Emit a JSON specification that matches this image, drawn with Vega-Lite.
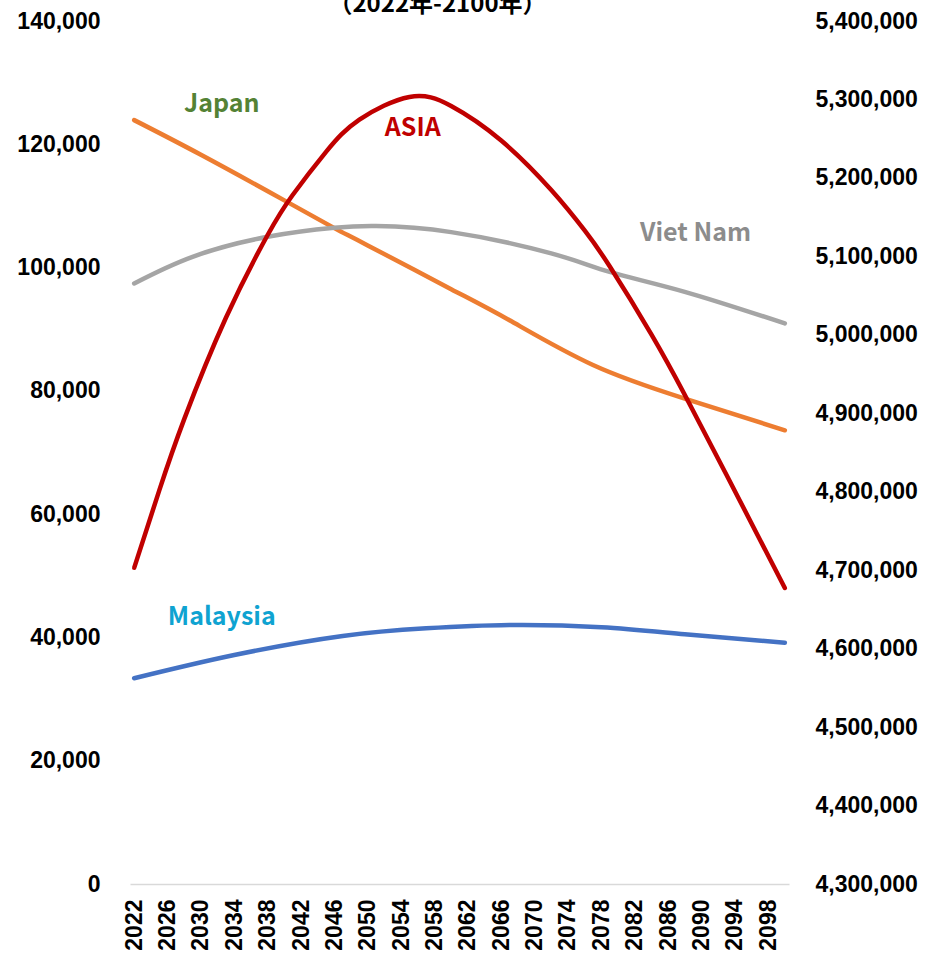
{
  "$schema": "https://vega.github.io/schema/vega-lite/v6.json",
  "width": 659,
  "height": 863,
  "autosize": {"type": "none"},
  "padding": {"left": 130, "top": 21, "right": 137, "bottom": 73},
  "background": "white",
  "title": {"text": "（2022年-2100年）", "font": "Noto Sans CJK JP", "fontSize": 24, "fontWeight": "bold", "color": "#000000", "offset": -7, "dx": -22, "anchor": "middle"},
  "config": {
    "view": {"stroke": null},
    "axis": {"labelFont": "Liberation Sans", "labelFontSize": 23, "labelFontWeight": "bold", "labelColor": "#000000", "ticks": false, "tickSize": 0, "grid": false, "title": null, "labelFlush": false, "labelOverlap": false}
  },
  "datasets": {
    "series": [
      {"year": 2022, "series": "Japan", "value": 123920},
      {"year": 2030, "series": "Japan", "value": 118300},
      {"year": 2040, "series": "Japan", "value": 110900},
      {"year": 2046, "series": "Japan", "value": 106400},
      {"year": 2050, "series": "Japan", "value": 103600},
      {"year": 2060, "series": "Japan", "value": 96500},
      {"year": 2067, "series": "Japan", "value": 91450},
      {"year": 2077, "series": "Japan", "value": 84200},
      {"year": 2088, "series": "Japan", "value": 78750},
      {"year": 2100, "series": "Japan", "value": 73600},
      {"year": 2022, "series": "Viet Nam", "value": 97430},
      {"year": 2029, "series": "Viet Nam", "value": 101750},
      {"year": 2038, "series": "Viet Nam", "value": 104990},
      {"year": 2046, "series": "Viet Nam", "value": 106450},
      {"year": 2051, "series": "Viet Nam", "value": 106730},
      {"year": 2060, "series": "Viet Nam", "value": 105750},
      {"year": 2072, "series": "Viet Nam", "value": 102300},
      {"year": 2079, "series": "Viet Nam", "value": 99300},
      {"year": 2088, "series": "Viet Nam", "value": 96070},
      {"year": 2100, "series": "Viet Nam", "value": 90940},
      {"year": 2022, "series": "Malaysia", "value": 33370},
      {"year": 2034, "series": "Malaysia", "value": 37140},
      {"year": 2047, "series": "Malaysia", "value": 40230},
      {"year": 2057, "series": "Malaysia", "value": 41470},
      {"year": 2067, "series": "Malaysia", "value": 42010},
      {"year": 2078, "series": "Malaysia", "value": 41640},
      {"year": 2088, "series": "Malaysia", "value": 40500},
      {"year": 2100, "series": "Malaysia", "value": 39140},
      {"year": 2022, "series": "ASIA", "value": 4703000},
      {"year": 2025, "series": "ASIA", "value": 4801400},
      {"year": 2028, "series": "ASIA", "value": 4892500},
      {"year": 2033, "series": "ASIA", "value": 5021700},
      {"year": 2038, "series": "ASIA", "value": 5127200},
      {"year": 2041, "series": "ASIA", "value": 5178200},
      {"year": 2045, "series": "ASIA", "value": 5233200},
      {"year": 2049, "series": "ASIA", "value": 5274300},
      {"year": 2055, "series": "ASIA", "value": 5303200},
      {"year": 2060, "series": "ASIA", "value": 5291600},
      {"year": 2066, "series": "ASIA", "value": 5247600},
      {"year": 2072, "series": "ASIA", "value": 5184500},
      {"year": 2076, "series": "ASIA", "value": 5133000},
      {"year": 2079, "series": "ASIA", "value": 5087400},
      {"year": 2084, "series": "ASIA", "value": 5000600},
      {"year": 2088, "series": "ASIA", "value": 4923700},
      {"year": 2093, "series": "ASIA", "value": 4821700},
      {"year": 2100, "series": "ASIA", "value": 4677300}
    ],
    "labels": [
      {"year": 2032.5, "value": 126500, "label": "Japan"},
      {"year": 2055.4, "value": 122600, "label": "ASIA"},
      {"year": 2089.3, "value": 105600, "label": "Viet Nam"},
      {"year": 2032.5, "value": 43300, "label": "Malaysia"}
    ]
  },
  "encoding": {
    "x": {
      "field": "year", "type": "quantitative",
      "scale": {"domain": [2021.5, 2100.5], "nice": false, "zero": false},
      "axis": {"values": [2022, 2026, 2030, 2034, 2038, 2042, 2046, 2050, 2054, 2058, 2062, 2066, 2070, 2074, 2078, 2082, 2086, 2090, 2094, 2098], "format": "d", "labelAngle": -90, "labelPadding": 15, "domain": true, "domainColor": "#D9D9D9", "domainWidth": 1.5}
    }
  },
  "layer": [
    {
      "encoding": {
        "y": {
          "field": "value", "type": "quantitative",
          "scale": {"domain": [0, 140000], "nice": false},
          "axis": {"orient": "left", "values": [0, 20000, 40000, 60000, 80000, 100000, 120000, 140000], "format": ",d", "labelPadding": 30, "domain": false}
        }
      },
      "layer": [
        {
          "data": {"name": "series"},
          "transform": [{"filter": "datum.series !== 'ASIA'"}],
          "mark": {"type": "line", "strokeWidth": 4.5, "interpolate": "natural", "strokeCap": "round", "strokeJoin": "round"},
          "encoding": {
            "color": {"field": "series", "type": "nominal", "legend": null, "scale": {"domain": ["Japan", "Viet Nam", "Malaysia"], "range": ["#ED7D31", "#A5A5A5", "#4472C4"]}}
          }
        },
        {
          "data": {"name": "labels"},
          "transform": [{"filter": "datum.label === 'Japan'"}],
          "mark": {"type": "text", "font": "Noto Sans CJK JP", "fontSize": 25, "fontWeight": "bold", "color": "#548235", "align": "center", "baseline": "middle"},
          "encoding": {"text": {"field": "label"}}
        },
        {
          "data": {"name": "labels"},
          "transform": [{"filter": "datum.label === 'ASIA'"}],
          "mark": {"type": "text", "font": "Noto Sans CJK JP", "fontSize": 25, "fontWeight": "bold", "color": "#C00000", "align": "center", "baseline": "middle"},
          "encoding": {"text": {"field": "label"}}
        },
        {
          "data": {"name": "labels"},
          "transform": [{"filter": "datum.label === 'Viet Nam'"}],
          "mark": {"type": "text", "font": "Noto Sans CJK JP", "fontSize": 25, "fontWeight": "bold", "color": "#8C8C8C", "align": "center", "baseline": "middle"},
          "encoding": {"text": {"field": "label"}}
        },
        {
          "data": {"name": "labels"},
          "transform": [{"filter": "datum.label === 'Malaysia'"}],
          "mark": {"type": "text", "font": "Noto Sans CJK JP", "fontSize": 25, "fontWeight": "bold", "color": "#0FA3D1", "align": "center", "baseline": "middle"},
          "encoding": {"text": {"field": "label"}}
        }
      ]
    },
    {
      "data": {"name": "series"},
      "transform": [{"filter": "datum.series === 'ASIA'"}],
      "mark": {"type": "line", "strokeWidth": 4.5, "interpolate": "natural", "strokeCap": "round", "strokeJoin": "round", "color": "#C00000"},
      "encoding": {
        "y": {
          "field": "value", "type": "quantitative",
          "scale": {"domain": [4300000, 5400000], "nice": false, "zero": false},
          "axis": {"orient": "right", "values": [4300000, 4400000, 4500000, 4600000, 4700000, 4800000, 4900000, 5000000, 5100000, 5200000, 5300000, 5400000], "format": ",d", "labelPadding": 26, "domain": false}
        }
      }
    }
  ],
  "resolve": {"scale": {"y": "independent"}}
}
